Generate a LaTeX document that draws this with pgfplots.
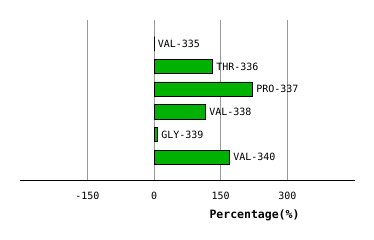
\documentclass[border=0pt]{standalone}
\usepackage{fontspec}
\setmainfont{DejaVu Sans Mono}
\usepackage{pgfplots}
\pgfplotsset{compat=1.18}
\definecolor{barg}{RGB}{0,178,0}
\pgfplotstableread{
y val label
1 0 VAL-335
2 131.6 THR-336
3 221.6 PRO-337
4 116 VAL-338
5 7.9 GLY-339
6 170 VAL-340
}\datatab
\begin{document}
\begin{tikzpicture}
\useasboundingbox (-20pt,-60pt) rectangle (354pt,180pt);
\begin{axis}[at={(0pt,0pt)}, anchor=south west, scale only axis,
  width=335pt, height=160pt,
  xmin=-301.5, xmax=452, ymin=-0.05, ymax=7, y dir=reverse,
  xbar, bar width=14.5pt, bar shift=0pt,
  axis x line=bottom, axis y line=none,
  axis line style={black,-,line width=0.8pt},
  xtick={-150,0,150,300}, major tick length=0pt,
  xmajorgrids, grid style={color=black!40, line width=0.8pt},
  /pgf/number format/assume math mode=true,
  tick label style={font=\fontsize{10}{12}\selectfont, yshift=-9pt},
  xlabel={Percentage(\%)},
  xlabel style={at={(axis description cs:0.70,0)}, anchor=center, yshift=-35pt, font=\bfseries\fontsize{11.5}{13}\selectfont},
  point meta=explicit symbolic,
  nodes near coords,
  nodes near coords style={font=\fontsize{10}{12}\selectfont, anchor=west, black},
  clip=false,
]
\addplot[fill=barg, draw=black, line width=0.8pt] table[x=val, y=y, meta=label] {\datatab};
\end{axis}
\end{tikzpicture}
\end{document}
